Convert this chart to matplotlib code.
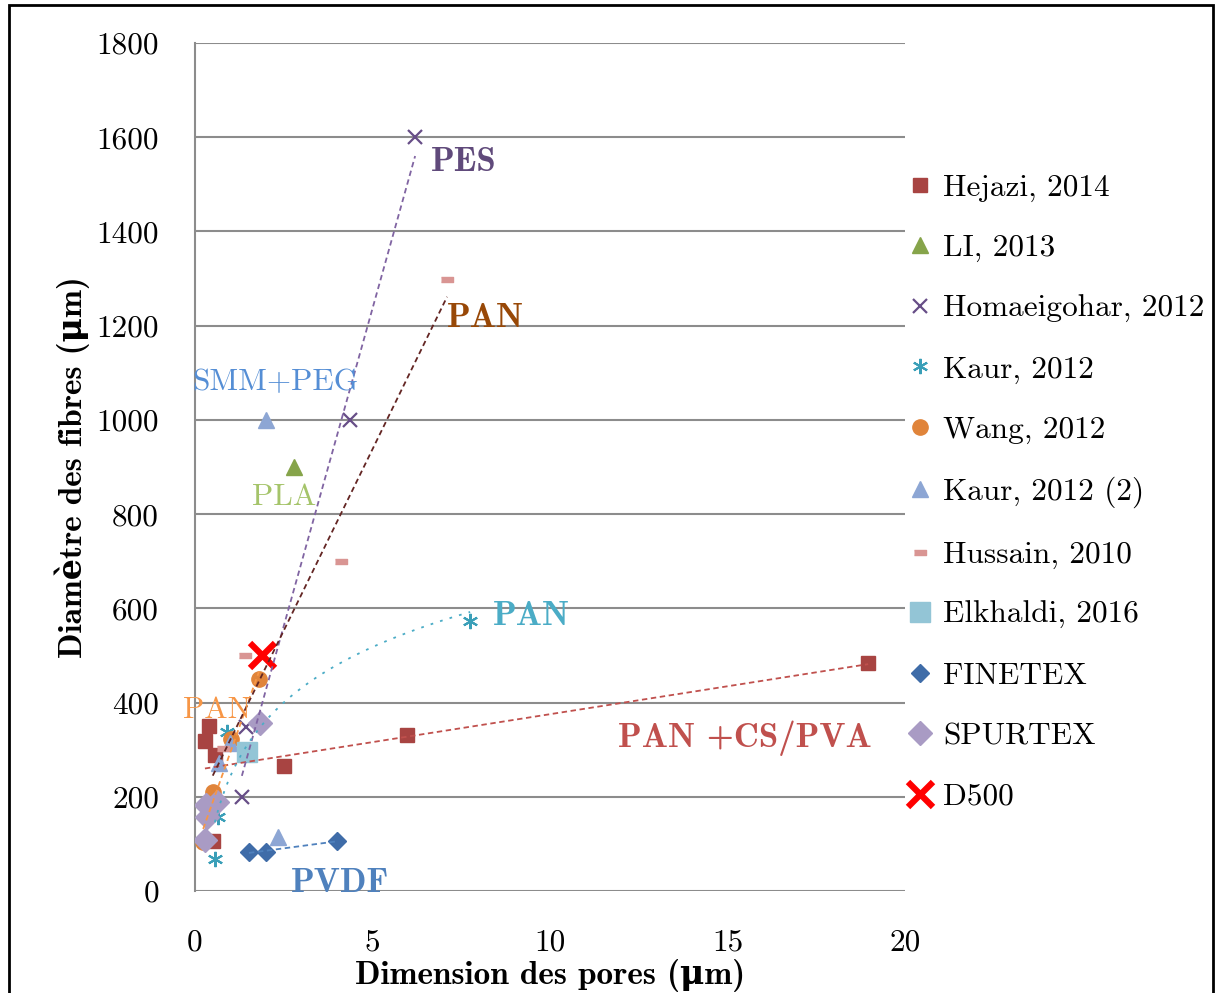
import numpy as np
import matplotlib
matplotlib.use("Agg")
import matplotlib.pyplot as plt
from matplotlib.patches import Rectangle

# ---------------- data ----------------
hejazi_x = [0.39, 0.28, 0.56, 2.5, 5.97, 18.96, 0.5]
hejazi_y = [350, 318, 289, 265, 331, 484, 106]

li_x = [2.79]
li_y = [900]

homa_x = [6.2, 4.37, 1.44, 1.32]
homa_y = [1600, 1000, 348, 200]

kaur_x = [7.75, 0.9, 0.65, 0.56]
kaur_y = [573, 338, 157, 68]

wang_x = [1.8, 1.01, 0.51, 0.23]
wang_y = [450, 322, 210, 104]

kaur2_x = [2.0, 2.34, 0.99, 0.68]
kaur2_y = [1000, 115, 314, 272]

hussain_x = [7.1, 4.11, 1.41, 0.8, 0.5]
hussain_y = [1300, 700, 500, 303, 180]

elkhaldi_x = [1.46]
elkhaldi_y = [295]

finetex_x = [1.52, 2.0, 4.0]
finetex_y = [83, 83, 106]

spurtex_x = [1.83, 0.31, 0.62, 0.33, 0.28]
spurtex_y = [357, 183, 189, 157, 108]

d500_x = [1.9]
d500_y = [500]

labels = ["Hejazi, 2014", "LI, 2013", "Homaeigohar, 2012", "Kaur, 2012",
          "Wang, 2012", "Kaur, 2012 (2)", "Hussain, 2010", "Elkhaldi, 2016",
          "FINETEX", "SPURTEX", "D500"]

xticks = [0, 5, 10, 15, 20]
yticks = [0, 200, 400, 600, 800, 1000, 1200, 1400, 1600, 1800]

RM = ['cmr10', 'DejaVu Serif']
BF = ['cmb10', 'DejaVu Serif']
MU = "\u03bc"

fig = plt.figure(figsize=(12.15, 9.93), dpi=100)
ax = fig.add_axes([0.1605, 0.1027, 0.5844, 0.854])

dash = [(-1, -0.45), (1, -0.45), (1, 0.45), (-1, 0.45)]

series = [
    (hejazi_x, hejazi_y, dict(marker='s', color='#A84442', ms=10)),
    (li_x, li_y, dict(marker='^', color='#86A44A', ms=11)),
    (homa_x, homa_y, dict(marker='x', color='#674E87', ms=10, mew=1.6)),
    (kaur_x, kaur_y, dict(marker=(6, 2, 0), color='#3A9FB8', ms=11, mew=1.5)),
    (wang_x, wang_y, dict(marker='o', color='#E0843A', ms=11)),
    (kaur2_x, kaur2_y, dict(marker='^', color='#8DA6D4', ms=11)),
    (hussain_x, hussain_y, dict(marker=dash, color='#D99593', ms=8)),
    (elkhaldi_x, elkhaldi_y, dict(marker='s', color='#93C5D6', ms=14)),
    (finetex_x, finetex_y, dict(marker='D', color='#3F6CA8', ms=9)),
    (spurtex_x, spurtex_y, dict(marker='D', color='#A99BC4', ms=12)),
    (d500_x, d500_y, dict(marker='x', color='#FF0000', ms=18, mew=4.5)),
]

handles = []
for (xs, ys, kw), lab in zip(series, labels):
    h, = ax.plot(xs, ys, linestyle='none', label=lab, zorder=3, **kw)
    handles.append(h)

# ---------------- trend lines (Excel-style fits) ----------------
def lin_trend(xs, ys, color, ls):
    p = np.polyfit(xs, ys, 1)
    xx = np.array([min(xs), max(xs)])
    ax.plot(xx, np.polyval(p, xx), color=color, lw=1.3, ls=ls, zorder=4)

lin_trend(hejazi_x, hejazi_y, '#C0504D', (0, (3, 2)))
lin_trend(homa_x, homa_y, '#8064A2', (0, (3, 2)))
lin_trend(wang_x, wang_y, '#F79646', (0, (3, 2)))
lin_trend(hussain_x, hussain_y, '#632523', (0, (3, 2)))
lin_trend(finetex_x, finetex_y, '#4F81BD', (0, (3, 2)))

pk = np.polyfit(np.log(kaur_x), kaur_y, 1)
xk = np.linspace(min(kaur_x), max(kaur_x), 200)
ax.plot(xk, pk[0] * np.log(xk) + pk[1], color='#4BACC6', lw=1.3,
        ls=(0, (1.5, 4)), zorder=4)

# ---------------- annotations ----------------
ann = [
    ("PES", 7.58, 1547, '#604A7B', True),
    ("PAN", 8.17, 1216, '#984807', True),
    ("SMM+PEG", 2.25, 1080, '#558ED5', False),
    ("PLA", 2.5, 836, '#A5C46A', False),
    ("PAN", 9.49, 582, '#4BACC6', True),
    ("PAN", 0.62, 384, '#F79646', False),
    ("PAN +CS/PVA", 15.5, 325, '#C0504D', True),
    ("PVDF", 4.08, 15, '#4F81BD', True),
]
for t, x, y, c, b in ann:
    ax.text(x, y, t, color=c, ha='center', va='center',
            fontsize=25 if b else 22.5, family=BF if b else RM,
            fontweight='bold' if b else 'normal', zorder=5)

# ---------------- axes styling ----------------
ax.set_xlim(0, 20)
ax.set_ylim(0, 1800)
ax.set_xticks(xticks, labels=[str(v) for v in xticks])
ax.set_yticks(yticks, labels=[str(v) for v in yticks])
ax.tick_params(length=0, labelsize=22.5)
ax.tick_params(axis='y', pad=26)
ax.tick_params(axis='x', pad=27)
for lab in ax.get_xticklabels() + ax.get_yticklabels():
    lab.set_family(RM)
ax.grid(axis='y', color='#8C8C8C', lw=1.5)
ax.set_axisbelow(True)
for s in ['top', 'right', 'bottom']:
    ax.spines[s].set_visible(False)
ax.spines['left'].set_color('#8C8C8C')
ax.spines['left'].set_linewidth(1.5)

ax.set_xlabel("Dimension des pores (" + MU + "m)", family=BF, fontweight='bold',
              fontsize=24, labelpad=2)
ax.set_ylabel("Diamètre des fibres (" + MU + "m)", family=BF, fontweight='bold',
              fontsize=24, labelpad=4.5)

fig.legend(handles=handles, loc='upper left', bbox_to_anchor=(0.748, 0.825),
           frameon=False, prop={'family': RM, 'size': 22.5}, labelspacing=1.04,
           handlelength=0.7, handletextpad=0.4, borderaxespad=0, borderpad=0)

fig.patches.append(Rectangle((0.007, -0.05), 0.991, 1.045, transform=fig.transFigure,
                             fill=False, edgecolor='black', lw=2))

fig.savefig("out.png", dpi=100)
